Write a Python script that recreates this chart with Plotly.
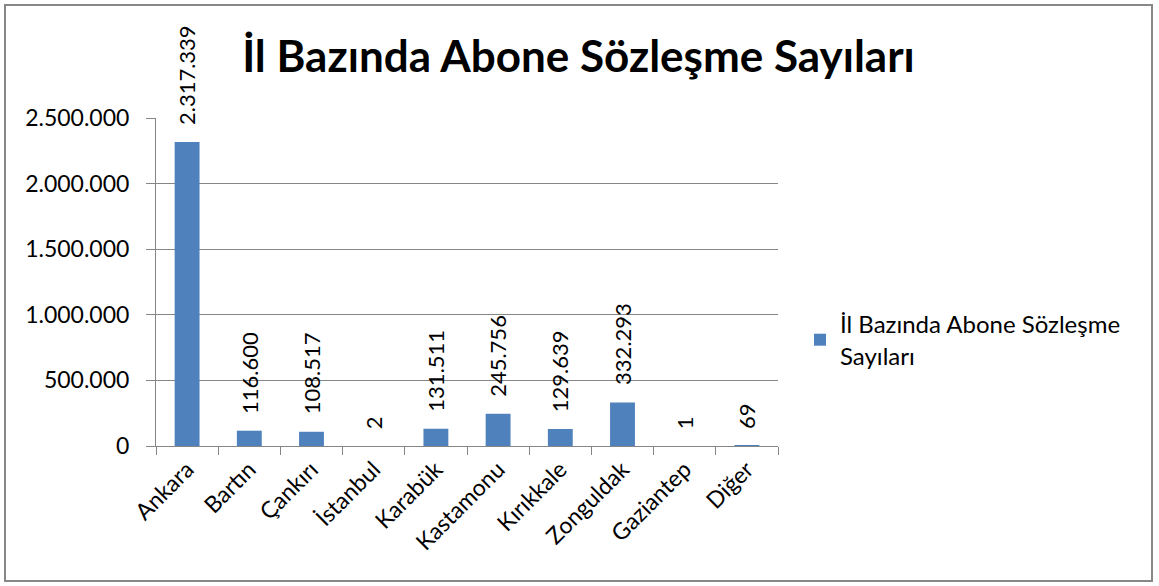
import plotly.graph_objects as go

categories = ["Ankara", "Bartın", "Çankırı", "İstanbul", "Karabük", "Kastamonu", "Kırıkkale", "Zonguldak", "Gaziantep", "Diğer"]
values = [2317339, 116600, 108517, 2, 131511, 245756, 129639, 332293, 1, 69]
series_name = "İl Bazında Abone Sözleşme Sayıları"
title_text = "İl Bazında Abone Sözleşme Sayıları"
y_ticks = [0, 500000, 1000000, 1500000, 2000000, 2500000]

FONT = "Lato"
BAR = "#4F81BD"
GRID = "#868686"

def fmt(v):
    return f"{v:,}".replace(",", ".")

fig = go.Figure()
fig.add_trace(go.Bar(
    x=categories, y=values, name="İl Bazında Abone Sözleşme<br>Sayıları",
    marker=dict(color=BAR, line=dict(width=0)),
    showlegend=True,
))

for c, v in zip(categories, values):
    fig.add_annotation(
        x=c, y=v, text=fmt(v), textangle=-90, showarrow=False,
        xref="x", yref="y", yanchor="bottom", yshift=15,
        font=dict(family=FONT, size=22, color="#000000"),
    )

W, H = 1159, 586
L, R, T, B = 156, 778, 118, 446
pw, ph = R - L, B - T

def px(x):
    return (x - L) / pw

def py(y):
    return (B - y) / ph

fig.add_shape(type="rect", xref="paper", yref="paper",
              x0=px(5), x1=px(1152), y0=py(581), y1=py(5),
              line=dict(color="#878787", width=2), fillcolor="rgba(0,0,0,0)", layer="below")

fig.update_layout(
    width=W, height=H,
    margin=dict(l=L, r=W - R, t=T, b=H - B, pad=0),
    paper_bgcolor="white", plot_bgcolor="white",
    separators=",.",
    bargap=0.6,
    title=dict(text="<b>" + title_text + "</b>", x=(237 + 920) / 2 / W, xanchor="center",
               y=1 - 57 / H, yanchor="middle",
               font=dict(family=FONT, size=44, color="#000000")),
    font=dict(family=FONT, size=22, color="#000000"),
    legend=dict(x=px(800), xanchor="left", y=py(340), yanchor="middle",
                font=dict(family=FONT, size=24, color="#000000"),
                bgcolor="rgba(0,0,0,0)", itemwidth=30, traceorder="normal"),
    xaxis=dict(
        tickangle=-45, ticks="outside", tickson="boundaries", ticklen=8,
        tickcolor=GRID, showline=True, linecolor=GRID, linewidth=1,
        tickfont=dict(family=FONT, size=23), showgrid=False,
    ),
    yaxis=dict(
        range=[0, 2500000], tickvals=y_ticks, ticktext=[fmt(v) for v in y_ticks],
        ticks="outside", ticklen=9, tickcolor=GRID,
        showline=True, linecolor=GRID, linewidth=1,
        showgrid=True, gridcolor=GRID, gridwidth=1, zeroline=False,
        tickfont=dict(family=FONT, size=23), ticklabelstandoff=12,
    ),
)

fig.write_html("out.html", config={"displayModeBar": False},
               post_script="document.body.style.margin='0';")
